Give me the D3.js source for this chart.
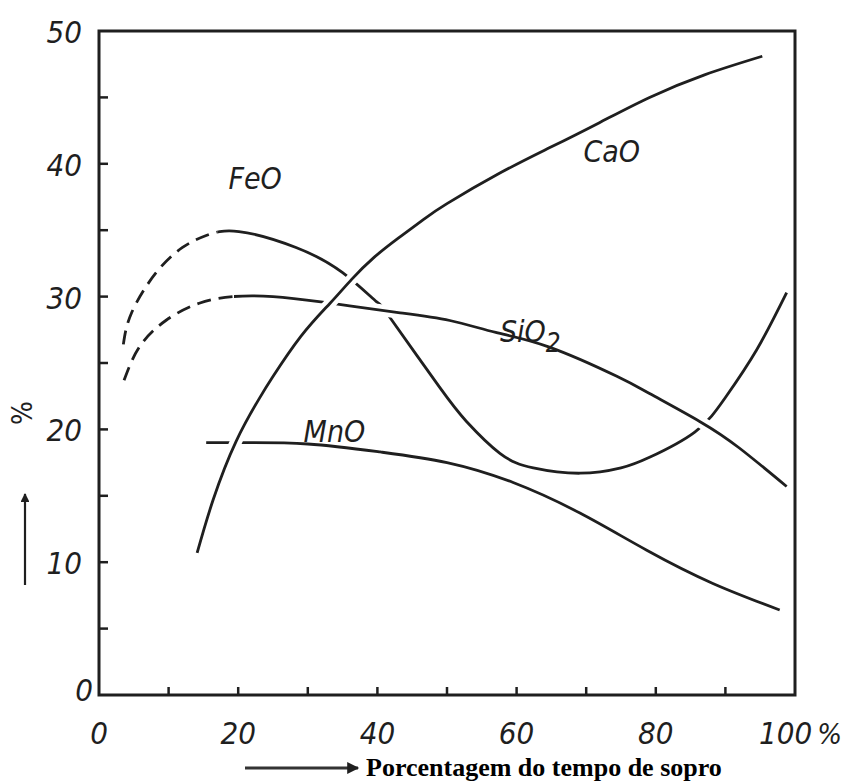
<!DOCTYPE html>
<html>
<head>
<meta charset="utf-8">
<script src="https://cdn.jsdelivr.net/npm/d3@7/dist/d3.min.js"></script>
<style>
  html, body { margin: 0; padding: 0; background: #fff; }
  svg { display: block; }
  .lettering { font-family: "DejaVu Sans Condensed", "DejaVu Sans", sans-serif; font-style: italic; fill: #1f1f1f; }
</style>
</head>
<body>
<svg id="chart"></svg>
<script>
// Slag composition vs. blowing time

const xTicks = [0, 20, 40, 60, 80, 100];
const yTicks = [0, 10, 20, 30, 40, 50];

const caoX = [14.1, 16.4, 19.7, 23.0, 24.9, 29.0, 33.2, 36.3, 39.4, 43.0, 46.6, 50.0, 57.6, 64.7, 71.9, 79.1, 87.0, 95.3];
const caoY = [10.7, 14.7, 19.1, 22.3, 23.9, 27.0, 29.5, 31.3, 32.9, 34.4, 35.8, 37.0, 39.3, 41.2, 43.1, 45.0, 46.7, 48.1];

const feoX = [3.5, 4.7, 8.2, 12.0, 15.4, 20.1, 28.3, 35.0, 39.9, 41.7, 48.9, 52.8, 57.6, 62.4, 69.1, 75.0, 79.1, 85.6, 90.0, 94.5, 98.8];
const feoY = [26.4, 28.8, 31.8, 33.7, 34.6, 34.9, 33.7, 31.8, 29.6, 28.5, 23.2, 20.6, 18.2, 17.1, 16.7, 17.1, 17.9, 19.8, 22.4, 26.0, 30.3];

const sioX = [3.6, 5.8, 9.6, 14.4, 19.2, 25.0, 31.9, 36.0, 43.0, 50.4, 57.0, 64.7, 74.4, 79.1, 86.3, 92.0, 98.8];
const sioY = [23.7, 26.2, 28.2, 29.5, 30.0, 30.0, 29.6, 29.3, 28.8, 28.2, 27.3, 26.2, 24.0, 22.7, 20.6, 18.6, 15.7];

const mnoX = [15.4, 20.6, 30.0, 40.4, 50.0, 59.5, 69.1, 78.7, 88.2, 97.8];
const mnoY = [19.0, 19.0, 18.9, 18.3, 17.5, 16.0, 13.7, 10.9, 8.4, 6.4];

// extrapolated (dashed) parts of the curves, in % of blowing time
const feoDashed = [0, 17];
const sioDashed = [0, 19.4];

const width = 849, height = 784;
const margin = { top: 31, right: 54, bottom: 89, left: 99 };

const svg = d3.select('#chart')
    .attr('width', width)
    .attr('height', height);

const x = d3.scaleLinear().domain([0, 100]).range([margin.left, width - margin.right]);
const y = d3.scaleLinear().domain([0, 50]).range([height - margin.bottom, margin.top]);

const line = d3.line()
    .x(d => x(d[0]))
    .y(d => y(d[1]))
    .curve(d3.curveNatural);

const zip = (xs, ys) => xs.map((v, i) => [v, ys[i]]);

// clip paths for dashed / solid pieces
const defs = svg.append('defs');
function addClip(id, x0, x1) {
    defs.append('clipPath').attr('id', id)
        .append('rect')
        .attr('x', x(x0)).attr('y', 0)
        .attr('width', x(x1) - x(x0)).attr('height', height);
}
addClip('feo-dash', feoDashed[0], feoDashed[1]);
addClip('feo-solid', feoDashed[1], 100);
addClip('sio-dash', sioDashed[0], sioDashed[1]);
addClip('sio-solid', sioDashed[1], 100);

const curves = svg.append('g').attr('fill', 'none').attr('stroke-linecap', 'butt');

function drawSeries(pts, opts) {
    if (opts.halo) {
        curves.append('path')
            .attr('d', line(pts))
            .attr('stroke', '#fff')
            .attr('stroke-width', 12);
    }
    const parts = opts.dashClip
        ? [{ clip: opts.dashClip, dash: opts.dash }, { clip: opts.solidClip, dash: null }]
        : [{ clip: null, dash: null }];
    parts.forEach(p => {
        curves.append('path')
            .attr('d', line(pts))
            .attr('clip-path', p.clip ? `url(#${p.clip})` : null)
            .attr('stroke', '#1f1f1f')
            .attr('stroke-width', 2.8)
            .attr('stroke-dasharray', p.dash);
    });
}

drawSeries(zip(feoX, feoY), { dashClip: 'feo-dash', solidClip: 'feo-solid', dash: '14,8' });
drawSeries(zip(mnoX, mnoY), {});
drawSeries(zip(sioX, sioY), { halo: true, dashClip: 'sio-dash', solidClip: 'sio-solid', dash: '14,8' });
drawSeries(zip(caoX, caoY), { halo: true });

// frame
svg.append('rect')
    .attr('x', x(0)).attr('y', y(50))
    .attr('width', x(100) - x(0)).attr('height', y(0) - y(50))
    .attr('fill', 'none')
    .attr('stroke', '#1f1f1f')
    .attr('stroke-width', 3);

// inner ticks
const tickG = svg.append('g').attr('stroke', '#1f1f1f').attr('stroke-width', 2.5);
d3.range(5, 50, 5).forEach(v => {
    tickG.append('line')
        .attr('x1', x(0)).attr('x2', x(0) + 9)
        .attr('y1', y(v)).attr('y2', y(v));
});
d3.range(10, 100, 10).forEach(v => {
    tickG.append('line')
        .attr('x1', x(v)).attr('x2', x(v))
        .attr('y1', y(0)).attr('y2', y(0) - 8);
});

// tick labels
svg.append('g').selectAll('text')
    .data(yTicks)
    .join('text')
    .attr('class', 'lettering')
    .attr('x', d => d === 0 ? x(0) - 6 : x(0) - 17)
    .attr('y', d => d === 0 ? y(d) + 6 : y(d) + 12)
    .attr('text-anchor', 'end')
    .attr('font-size', 31)
    .text(d => d);

const xLab = svg.append('g').selectAll('text')
    .data(xTicks)
    .join('text')
    .attr('class', 'lettering')
    .attr('x', d => d === 100 ? x(d) - 36 : x(d))
    .attr('y', y(0) + 49)
    .attr('text-anchor', d => d === 100 ? 'start' : 'middle')
    .attr('font-size', 31)
    .text(d => d === 100 ? '100' : d);
xLab.filter(d => d === 100)
    .append('tspan').attr('dx', 5).attr('font-size', 29).text('%');

// curve labels
const labels = [
    { text: 'CaO', at: [69.6, 40.1] },
    { text: 'FeO', at: [18.6, 38.1] },
    { text: 'MnO', at: [29.4, 19.05] },
    { text: 'SiO', at: [57.6, 26.6], sub: '2' }
];
labels.forEach(l => {
    const t = svg.append('text')
        .attr('class', 'lettering')
        .attr('x', x(l.at[0]))
        .attr('y', y(l.at[1]))
        .attr('font-size', 30)
        .text(l.text);
    if (l.sub) {
        t.append('tspan').attr('dy', 10).attr('font-size', 26).text(l.sub);
    }
});

// y axis title with arrow
svg.append('text')
    .attr('class', 'lettering')
    .attr('transform', 'translate(32,413) rotate(-90)')
    .attr('text-anchor', 'middle')
    .attr('font-size', 28)
    .style('font-style', 'normal')
    .text('%');

defs.append('marker')
    .attr('id', 'arrow')
    .attr('viewBox', '0 -5 10 10')
    .attr('refX', 9).attr('refY', 0)
    .attr('orient', 'auto')
    .attr('markerWidth', 5).attr('markerHeight', 4)
    .append('path')
    .attr('d', 'M0,-5L10,0L0,5Z')
    .attr('fill', '#1f1f1f');

svg.append('line')
    .attr('x1', 25).attr('y1', 585).attr('x2', 25).attr('y2', 494)
    .attr('stroke', '#1f1f1f').attr('stroke-width', 2.2)
    .attr('marker-end', 'url(#arrow)');

svg.append('line')
    .attr('x1', 245).attr('y1', 768).attr('x2', 358).attr('y2', 768)
    .attr('stroke', '#333').attr('stroke-width', 3)
    .attr('marker-end', 'url(#arrow)');

svg.append('text')
    .attr('x', 366).attr('y', 776)
    .attr('font-family', '"Liberation Serif", "Times New Roman", serif')
    .attr('font-weight', 'bold')
    .attr('font-size', 26)
    .attr('fill', '#000')
    .text('Porcentagem do tempo de sopro');
</script>
</body>
</html>
